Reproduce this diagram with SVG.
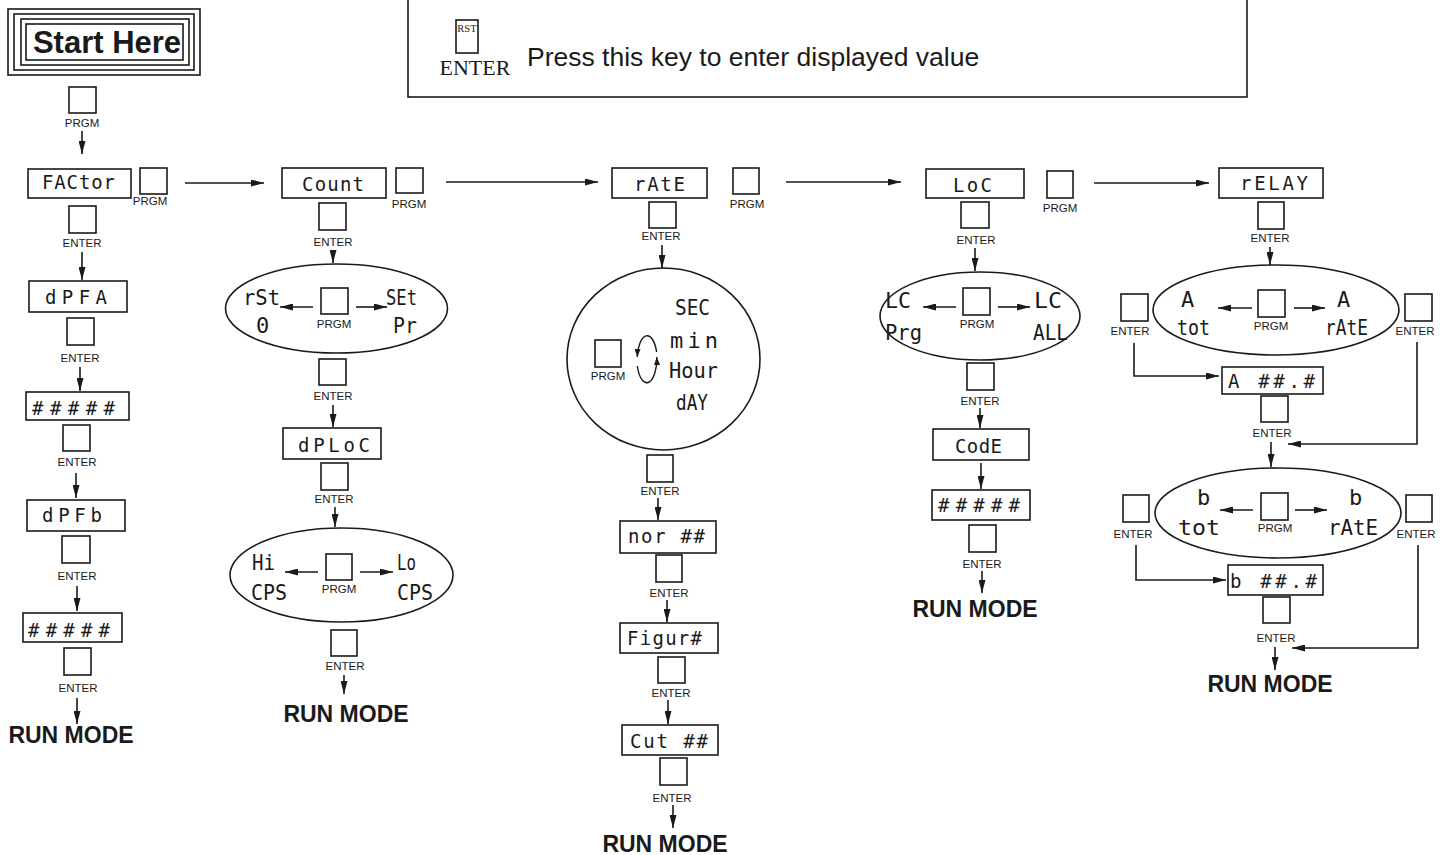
<svg xmlns="http://www.w3.org/2000/svg" width="1448" height="855" viewBox="0 0 1448 855">
<defs>
<style>
.box{fill:#fff;stroke:#1a1a1a;stroke-width:1.6}
.key{fill:#fff;stroke:#1a1a1a;stroke-width:1.6}
.ov{fill:none;stroke:#1a1a1a;stroke-width:1.6}
.kl{font-family:"Liberation Sans",Arial,sans-serif;font-size:11.5px;fill:#1a1a1a;text-anchor:middle}
.seg{font-family:"DejaVu Sans Mono",monospace;font-size:19px;fill:#1a1a1a}
.segl{font-family:"DejaVu Sans Mono",monospace;font-size:22px;fill:#1a1a1a}
.run{font-family:"Liberation Sans",Arial,sans-serif;font-size:23px;font-weight:bold;fill:#1a1a1a;text-anchor:middle}
.arr{fill:none;stroke:#1a1a1a;stroke-width:1.6;marker-end:url(#ah)}
.arrs{fill:none;stroke:#1a1a1a;stroke-width:1.4;marker-end:url(#ahs)}
</style>
<marker id="ah" viewBox="0 0 13 7" refX="13" refY="3.5" markerWidth="13" markerHeight="7" markerUnits="userSpaceOnUse" orient="auto"><path d="M0,0 L13,3.5 L0,7 z" fill="#1a1a1a"/></marker>
<marker id="ahs" viewBox="0 0 8 6" refX="8" refY="3" markerWidth="8" markerHeight="6" markerUnits="userSpaceOnUse" orient="auto"><path d="M0,0 L8,3 L0,6 z" fill="#1a1a1a"/></marker>
</defs>
<rect width="1448" height="855" fill="#fff"/>

<g id="legend">
<rect x="408" y="-5" width="839" height="102" class="box" stroke-width="2"/>
<rect x="456" y="20" width="22" height="33" class="key"/>
<text x="467" y="32" font-family="Liberation Serif,serif" font-size="10.5" text-anchor="middle" fill="#1a1a1a">RST</text>
<text x="475" y="75" font-family="Liberation Serif,serif" font-size="22" text-anchor="middle" fill="#1a1a1a">ENTER</text>
<text x="527" y="66" font-family="Liberation Sans,Arial,sans-serif" font-size="26.5" fill="#1a1a1a">Press this key to enter displayed value</text>
</g>

<g id="start">
<rect x="8" y="9" width="192" height="66" class="box"/>
<rect x="14" y="14" width="180" height="56" class="box"/>
<rect x="21" y="19" width="168" height="46" class="box"/>
<rect x="26" y="24" width="157" height="36" class="box"/>
<text x="107" y="53" font-family="Liberation Sans,Arial,sans-serif" font-size="31" font-weight="bold" text-anchor="middle" fill="#1a1a1a">Start Here</text>
</g>

<!-- Column 1 -->
<g id="k-start-prgm"><rect x="69" y="87" width="27" height="26" class="key"/><text x="82" y="127" class="kl">PRGM</text></g>
<g id="n-factor"><rect x="28" y="169" width="103" height="29" class="box"/><text x="42" y="189" class="seg" textLength="73">FACtor</text></g>
<g id="k-factor-prgm"><rect x="140" y="168" width="27" height="26" class="key"/><text x="150" y="205" class="kl">PRGM</text></g>
<g id="k-factor-enter"><rect x="69" y="206" width="27" height="27" class="key"/><text x="82" y="247" class="kl">ENTER</text></g>
<g id="n-dpfa"><rect x="29" y="281" width="98" height="31" class="box"/><text x="45" y="304" class="seg" textLength="62">dPFA</text></g>
<g id="k-dpfa-enter"><rect x="67" y="318" width="27" height="27" class="key"/><text x="80" y="362" class="kl">ENTER</text></g>
<g id="n-hash1"><rect x="26" y="392" width="103" height="28" class="box"/><text x="32" y="415" class="seg" textLength="83">#####</text></g>
<g id="k-hash1-enter"><rect x="63" y="425" width="27" height="26" class="key"/><text x="77" y="466" class="kl">ENTER</text></g>
<g id="n-dpfb"><rect x="27" y="500" width="98" height="31" class="box"/><text x="42" y="522" class="seg" textLength="60">dPFb</text></g>
<g id="k-dpfb-enter"><rect x="62" y="536" width="28" height="27" class="key"/><text x="77" y="580" class="kl">ENTER</text></g>
<g id="n-hash2"><rect x="23" y="613" width="99" height="29" class="box"/><text x="28" y="637" class="seg" textLength="82">#####</text></g>
<g id="k-hash2-enter"><rect x="64" y="648" width="27" height="27" class="key"/><text x="78" y="692" class="kl">ENTER</text></g>
<g id="run1"><text x="71" y="743" class="run">RUN MODE</text></g>

<!-- Column 2 -->
<g id="n-count"><rect x="282" y="168" width="104" height="30" class="box"/><text x="302" y="191" class="seg" textLength="62">Count</text></g>
<g id="k-count-prgm"><rect x="396" y="168" width="27" height="25" class="key"/><text x="409" y="208" class="kl">PRGM</text></g>
<g id="k-count-enter"><rect x="319" y="203" width="27" height="27" class="key"/><text x="333" y="246" class="kl">ENTER</text></g>
<g id="o-reset">
<ellipse cx="336.5" cy="308.5" rx="111" ry="44.5" class="ov"/>
<text x="243" y="305" class="segl" textLength="37" lengthAdjust="spacingAndGlyphs">rSt</text>
<text x="256" y="333" class="segl">0</text>
<text x="386" y="305" class="segl" textLength="31" lengthAdjust="spacingAndGlyphs">SEt</text>
<text x="393" y="333" class="segl" textLength="24" lengthAdjust="spacingAndGlyphs">Pr</text>
<rect x="321" y="288" width="27" height="26" class="key"/><text x="334" y="328" class="kl">PRGM</text>
</g>
<g id="k-reset-enter"><rect x="319" y="359" width="27" height="26" class="key"/><text x="333" y="400" class="kl">ENTER</text></g>
<g id="n-dploc"><rect x="283" y="428" width="98" height="31" class="box"/><text x="298" y="452" class="seg" textLength="72">dPLoC</text></g>
<g id="k-dploc-enter"><rect x="321" y="463" width="27" height="27" class="key"/><text x="334" y="503" class="kl">ENTER</text></g>
<g id="o-cps">
<ellipse cx="341.5" cy="575" rx="111.5" ry="47" class="ov"/>
<text x="252" y="570" class="segl" textLength="23" lengthAdjust="spacingAndGlyphs">Hi</text>
<text x="251" y="600" class="segl" textLength="36" lengthAdjust="spacingAndGlyphs">CPS</text>
<text x="397" y="570" class="segl" textLength="19" lengthAdjust="spacingAndGlyphs">Lo</text>
<text x="397" y="600" class="segl" textLength="36" lengthAdjust="spacingAndGlyphs">CPS</text>
<rect x="326" y="554" width="26" height="26" class="key"/><text x="339" y="593" class="kl">PRGM</text>
</g>
<g id="k-cps-enter"><rect x="331" y="630" width="26" height="26" class="key"/><text x="345" y="670" class="kl">ENTER</text></g>
<g id="run2"><text x="346" y="722" class="run">RUN MODE</text></g>

<!-- Column 3 -->
<g id="n-rate"><rect x="612" y="168" width="95" height="30" class="box"/><text x="634" y="191" class="seg" textLength="51">rAtE</text></g>
<g id="k-rate-prgm"><rect x="733" y="168" width="26" height="26" class="key"/><text x="747" y="208" class="kl">PRGM</text></g>
<g id="k-rate-enter"><rect x="649" y="202" width="27" height="26" class="key"/><text x="661" y="240" class="kl">ENTER</text></g>
<g id="o-time">
<ellipse cx="663.5" cy="359" rx="96.5" ry="91" class="ov"/>
<text x="675" y="315" class="segl" textLength="35" lengthAdjust="spacingAndGlyphs">SEC</text>
<text x="670" y="348" class="segl" textLength="48">min</text>
<text x="669" y="378" class="segl" textLength="49" lengthAdjust="spacingAndGlyphs">Hour</text>
<text x="676" y="410" class="segl" textLength="32" lengthAdjust="spacingAndGlyphs">dAY</text>
<rect x="595" y="340" width="26" height="27" class="key"/><text x="608" y="380" class="kl">PRGM</text>
<path d="M656.6,352 A10,24 0 0 0 637.2,357" class="arrs"/>
<path d="M637.3,366 A10,24 0 0 0 656.8,357" class="arrs"/>
</g>
<g id="k-time-enter"><rect x="647" y="455" width="26" height="27" class="key"/><text x="660" y="495" class="kl">ENTER</text></g>
<g id="n-nor"><rect x="620" y="521" width="96" height="32" class="box"/><text x="628" y="543" class="seg" textLength="77">nor ##</text></g>
<g id="k-nor-enter"><rect x="656" y="555" width="26" height="27" class="key"/><text x="669" y="597" class="kl">ENTER</text></g>
<g id="n-figur"><rect x="620" y="623" width="98" height="30" class="box"/><text x="627" y="645" class="seg" textLength="75">Figur#</text></g>
<g id="k-figur-enter"><rect x="658" y="657" width="27" height="26" class="key"/><text x="671" y="697" class="kl">ENTER</text></g>
<g id="n-cut"><rect x="622" y="725" width="96" height="30" class="box"/><text x="630" y="748" class="seg" textLength="78">Cut ##</text></g>
<g id="k-cut-enter"><rect x="660" y="758" width="27" height="27" class="key"/><text x="672" y="802" class="kl">ENTER</text></g>
<g id="run3"><text x="665" y="852" class="run">RUN MODE</text></g>

<!-- Column 4 -->
<g id="n-loc"><rect x="926" y="169" width="98" height="29" class="box"/><text x="953" y="192" class="seg" textLength="39">LoC</text></g>
<g id="k-loc-prgm"><rect x="1047" y="171" width="26" height="27" class="key"/><text x="1060" y="212" class="kl">PRGM</text></g>
<g id="k-loc-enter"><rect x="961" y="202" width="28" height="26" class="key"/><text x="976" y="244" class="kl">ENTER</text></g>
<g id="o-lock">
<ellipse cx="980" cy="316" rx="100" ry="44" class="ov"/>
<text x="885" y="308" class="segl" textLength="26" lengthAdjust="spacingAndGlyphs">LC</text>
<text x="885" y="340" class="segl" textLength="37" lengthAdjust="spacingAndGlyphs">Prg</text>
<text x="1034" y="308" class="segl" textLength="28" lengthAdjust="spacingAndGlyphs">LC</text>
<text x="1033" y="340" class="segl" textLength="35" lengthAdjust="spacingAndGlyphs">ALL</text>
<rect x="963" y="288" width="27" height="27" class="key"/><text x="977" y="328" class="kl">PRGM</text>
</g>
<g id="k-lock-enter"><rect x="967" y="363" width="27" height="27" class="key"/><text x="980" y="405" class="kl">ENTER</text></g>
<g id="n-code"><rect x="933" y="429" width="96" height="31" class="box"/><text x="955" y="453" class="seg" textLength="47">CodE</text></g>
<g id="n-hash3"><rect x="932" y="490" width="98" height="30" class="box"/><text x="938" y="512" class="seg" textLength="82">#####</text></g>
<g id="k-hash3-enter"><rect x="969" y="525" width="27" height="27" class="key"/><text x="982" y="568" class="kl">ENTER</text></g>
<g id="run4"><text x="975" y="617" class="run">RUN MODE</text></g>

<!-- Column 5 -->
<g id="n-relay"><rect x="1219" y="168" width="104" height="30" class="box"/><text x="1240" y="190" class="seg" textLength="68">rELAY</text></g>
<g id="k-relay-enter"><rect x="1258" y="202" width="26" height="27" class="key"/><text x="1270" y="242" class="kl">ENTER</text></g>
<g id="o-relay-a">
<ellipse cx="1276" cy="310" rx="123" ry="45" class="ov"/>
<text x="1181" y="307" class="segl">A</text>
<text x="1177" y="335" class="segl" textLength="33" lengthAdjust="spacingAndGlyphs">tot</text>
<text x="1337" y="307" class="segl">A</text>
<text x="1325" y="335" class="segl" textLength="43" lengthAdjust="spacingAndGlyphs">rAtE</text>
<rect x="1258" y="290" width="27" height="27" class="key"/><text x="1271" y="330" class="kl">PRGM</text>
</g>
<g id="k-a-left"><rect x="1121" y="294" width="27" height="27" class="key"/><text x="1130" y="335" class="kl">ENTER</text></g>
<g id="k-a-right"><rect x="1405" y="294" width="27" height="27" class="key"/><text x="1415" y="335" class="kl">ENTER</text></g>
<g id="n-a"><rect x="1222" y="367" width="101" height="27" class="box"/><text x="1228" y="388" class="seg" textLength="87">A ##.#</text></g>
<g id="k-a-enter"><rect x="1261" y="396" width="27" height="26" class="key"/><text x="1272" y="437" class="kl">ENTER</text></g>
<g id="o-relay-b">
<ellipse cx="1278" cy="513" rx="123" ry="45" class="ov"/>
<text x="1197" y="505" class="segl">b</text>
<text x="1178" y="535" class="segl" textLength="42" lengthAdjust="spacingAndGlyphs">tot</text>
<text x="1349" y="505" class="segl">b</text>
<text x="1328" y="535" class="segl" textLength="50" lengthAdjust="spacingAndGlyphs">rAtE</text>
<rect x="1261" y="493" width="27" height="27" class="key"/><text x="1275" y="532" class="kl">PRGM</text>
</g>
<g id="k-b-left"><rect x="1123" y="495" width="26" height="27" class="key"/><text x="1133" y="538" class="kl">ENTER</text></g>
<g id="k-b-right"><rect x="1406" y="495" width="26" height="27" class="key"/><text x="1416" y="538" class="kl">ENTER</text></g>
<g id="n-b"><rect x="1228" y="565" width="95" height="30" class="box"/><text x="1230" y="588" class="seg" textLength="87">b ##.#</text></g>
<g id="k-b-enter"><rect x="1263" y="597" width="27" height="26" class="key"/><text x="1276" y="642" class="kl">ENTER</text></g>
<g id="run5"><text x="1270" y="692" class="run">RUN MODE</text></g>

<g id="connectors">
<path d="M82,131 V154" class="arr"/>
<path d="M82,252 V280" class="arr"/>
<path d="M80,367 V391" class="arr"/>
<path d="M76,473 V498" class="arr"/>
<path d="M77,586 V611" class="arr"/>
<path d="M77,698 V724" class="arr"/>
<path d="M185,183 H264" class="arr"/>
<path d="M333,250 V263" class="arr"/>
<path d="M313,307 H280" class="arr"/>
<path d="M356,307 H387" class="arr"/>
<path d="M333,405 V427" class="arr"/>
<path d="M335,507 V527" class="arr"/>
<path d="M318,572 H285" class="arr"/>
<path d="M360,572 H393" class="arr"/>
<path d="M344,675 V694" class="arr"/>
<path d="M446,182 H598" class="arr"/>
<path d="M662,245 V268" class="arr"/>
<path d="M658,498 V520" class="arr"/>
<path d="M667,600 V622" class="arr"/>
<path d="M668,700 V724" class="arr"/>
<path d="M673,805 V828" class="arr"/>
<path d="M786,182 H901" class="arr"/>
<path d="M975,248 V271" class="arr"/>
<path d="M956,307 H923" class="arr"/>
<path d="M998,307 H1030" class="arr"/>
<path d="M980,408 V428" class="arr"/>
<path d="M981,463 V489" class="arr"/>
<path d="M982,571 V593" class="arr"/>
<path d="M1094,183 H1209" class="arr"/>
<path d="M1270,247 V265" class="arr"/>
<path d="M1252,308 H1218" class="arr"/>
<path d="M1294,308 H1325" class="arr"/>
<path d="M1134,343 V376 H1219" class="arr"/>
<path d="M1417,342 V444 H1288" class="arr"/>
<path d="M1271,442 V467" class="arr"/>
<path d="M1253,510 H1220" class="arr"/>
<path d="M1295,510 H1327" class="arr"/>
<path d="M1136,545 V580 H1226" class="arr"/>
<path d="M1418,545 V648 H1292" class="arr"/>
<path d="M1275,647 V670" class="arr"/>
</g>
</svg>
